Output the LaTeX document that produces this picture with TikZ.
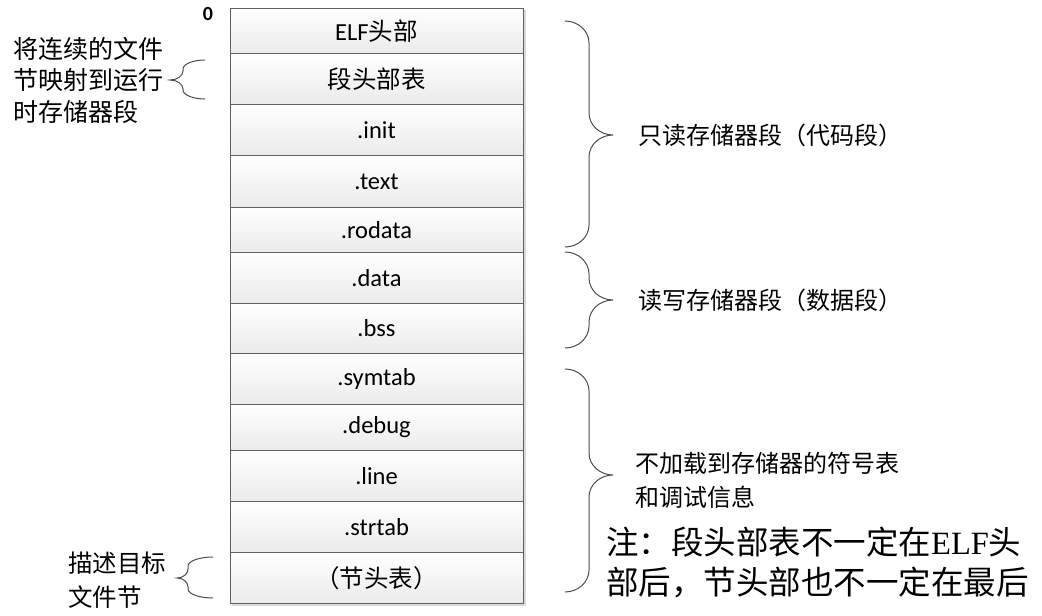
\documentclass[tikz,border=0pt]{standalone}
\usepackage{fontspec}
\setmainfont{Carlito}
\newfontfamily\cjk{Noto Sans CJK SC}
\newfontfamily\tnr{Liberation Serif}
\newcommand\CurlyB[7]{%
  \draw[brc] (#1,#4) .. controls ({#1+0.55*(#2-#1)},#4) and (#2,{#4+0.45*#7}) .. (#2,{#4+#7})
    -- (#2,{#5-#7}) .. controls (#2,{#5-0.45*#7}) and ({#2+0.45*(#3-#2)},#5) .. (#3,#5)
    .. controls ({#2+0.45*(#3-#2)},#5) and (#2,{#5+0.45*#7}) .. (#2,{#5+#7})
    -- (#2,{#6-#7}) .. controls (#2,{#6-0.45*#7}) and ({#1+0.55*(#2-#1)},#6) .. (#1,#6);}
\begin{document}
\begin{tikzpicture}[x=1pt,y=-1pt,
  cell/.style={draw=black!62, line width=0.9pt, top color=white, bottom color=black!8,
    minimum width=293pt, inner sep=0pt, anchor=north, font=\fontsize{24.5}{28}\selectfont},
  brc/.style={draw=black!70, line width=1pt},
  lbl/.style={anchor=west, inner sep=0pt, align=left, font=\cjk\fontsize{24}{24}\selectfont},
]
\useasboundingbox (0,0) rectangle (1042,616);
\fill[black!15] (232,10) rectangle (525.5,605.5);
\node[cell, minimum height=45pt] (r1) at (376.5,8) {ELF{\cjk 头部}};
\node[cell, minimum height=51pt] (r2) at (376.5,53) {{\cjk 段头部表}};
\node[cell, minimum height=51pt] (r3) at (376.5,104) {.init};
\node[cell, minimum height=52pt] (r4) at (376.5,155) {.text};
\node[cell, minimum height=45pt] (r5) at (376.5,207) {.rodata};
\node[cell, minimum height=51pt] (r6) at (376.5,252) {.data};
\node[cell, minimum height=50pt] (r7) at (376.5,303) {.bss};
\node[cell, minimum height=51pt] (r8) at (376.5,353) {.symtab};
\node[cell, minimum height=46pt] (r9) at (376.5,404) {.debug};
\node[cell, minimum height=51pt] (r10) at (376.5,450) {.line};
\node[cell, minimum height=51pt] (r11) at (376.5,501) {.strtab};
\node[cell, minimum height=51pt] (r12) at (376.5,552) {{\cjk （节头表）}};
\node[inner sep=0pt, font=\fontsize{20}{20}\selectfont\bfseries] (zero) at (208,14) {0};

\CurlyB{565}{589}{613}{21}{135}{247}{22}
\CurlyB{565}{589}{613}{252}{300}{348}{22}
\CurlyB{565}{589}{613}{369}{475}{592}{22}
\CurlyB{205}{183}{170}{60}{80}{99}{9}
\CurlyB{213}{188}{177}{557}{578}{598}{9}

\node[lbl] (ro) at (638,135) {只读存储器段（代码段）};
\node[lbl] (rw) at (638,300) {读写存储器段（数据段）};
\node[lbl, font=\cjk\fontsize{24}{34}\selectfont] (nl) at (635,480) {不加载到存储器的符号表\\和调试信息};
\node[lbl, font=\cjk\fontsize{32.5}{40}\selectfont] (note) at (606,562) {注：段头部表不一定在{\tnr ELF}头\\部后，节头部也不一定在最后};
\node[lbl, font=\cjk\fontsize{25}{31.5}\selectfont] (lt) at (13,80) {将连续的文件\\节映射到运行\\时存储器段};
\node[lbl, font=\cjk\fontsize{24.5}{34}\selectfont] (lb) at (68,580) {描述目标\\文件节};
\end{tikzpicture}
\end{document}
